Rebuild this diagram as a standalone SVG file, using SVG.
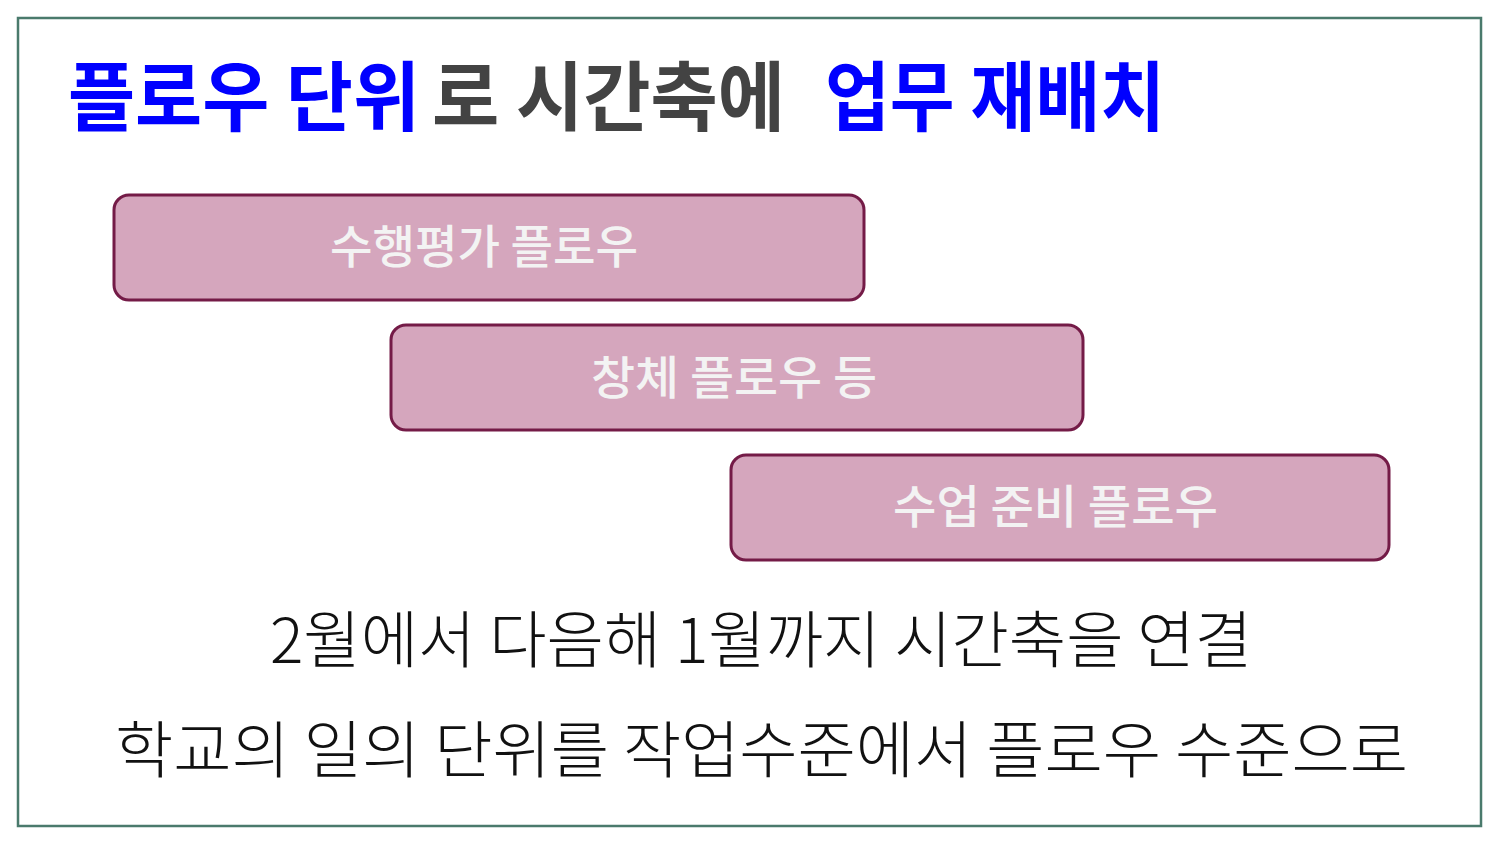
<svg xmlns="http://www.w3.org/2000/svg" width="1500" height="844" viewBox="0 0 1500 844">
<style>
.title{font-family:"Noto Sans CJK KR","Noto Sans",sans-serif;font-weight:700;font-size:76px}
.blue{fill:#0000ff}
.gray{fill:#434343}
.box rect{fill:#d5a6bd;stroke:#741b47;stroke-width:3}
.box text{font-family:"Noto Sans CJK KR","Noto Sans",sans-serif;font-weight:500;font-size:46px;fill:#f3f3f3}
.body{font-family:"Noto Sans CJK KR","Noto Sans",sans-serif;font-weight:300;font-size:62px;fill:#111111}
</style>
<rect x="0" y="0" width="1500" height="844" fill="#ffffff"/>
<rect id="frame" x="18" y="18" width="1463" height="808" fill="#ffffff" stroke="#4a7a6c" stroke-width="2.5"/>
<g id="title">
<text class="title blue" x="68" y="125" textLength="352" lengthAdjust="spacingAndGlyphs">플로우 단위</text>
<text class="title gray" x="432" y="125" textLength="353" lengthAdjust="spacingAndGlyphs">로 시간축에</text>
<text class="title blue" x="825" y="125" textLength="340" lengthAdjust="spacingAndGlyphs">업무 재배치</text>
</g>
<g id="box1" class="box">
<rect x="114" y="195" width="750" height="105" rx="15"/>
<text x="330" y="263" textLength="308" lengthAdjust="spacingAndGlyphs">수행평가 플로우</text>
</g>
<g id="box2" class="box">
<rect x="391" y="325" width="692" height="105" rx="15"/>
<text x="591" y="394" textLength="286" lengthAdjust="spacingAndGlyphs">창체 플로우 등</text>
</g>
<g id="box3" class="box">
<rect x="731" y="455" width="658" height="105" rx="15"/>
<text x="893" y="523" textLength="325" lengthAdjust="spacingAndGlyphs">수업 준비 플로우</text>
</g>
<g id="connectors"></g>
<g id="notes">
<text class="body" x="270" y="663" textLength="982" lengthAdjust="spacingAndGlyphs">2월에서 다음해 1월까지 시간축을 연결</text>
<text class="body" x="115" y="773" textLength="1293" lengthAdjust="spacingAndGlyphs">학교의 일의 단위를 작업수준에서 플로우 수준으로</text>
</g>
</svg>
